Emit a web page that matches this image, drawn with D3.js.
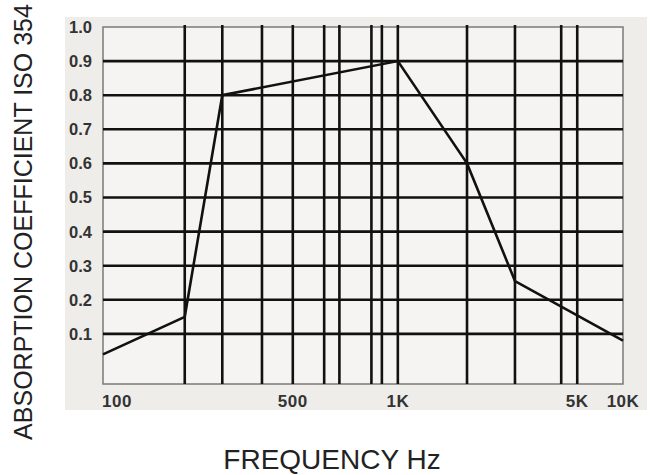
<!DOCTYPE html>
<html>
<head>
<meta charset="utf-8">
<script src="https://cdn.jsdelivr.net/npm/d3@7"></script>
<style>
  body { margin: 0; background: #fff; }
  text { font-family: "Liberation Sans", Arial, sans-serif; }
</style>
</head>
<body>
<svg id="chart" width="656" height="475"></svg>
<script>
// data
var freqs = [100, 200, 275, 1000, 1860, 2860, 10000];
var absorption = [0.04, 0.15, 0.80, 0.90, 0.60, 0.255, 0.08];

// vertical grid lines (hand drawn, irregular spacing)
var gridFreqs = [200, 275, 385, 500, 615, 680, 840, 900, 1000, 1860, 2860, 4330, 5000];
var gridValues = [0.1, 0.2, 0.3, 0.4, 0.5, 0.6, 0.7, 0.8, 0.9];

var xTicks = [100, 500, 1000, 5000, 10000];
var xTickLabels = ['100', '500', '1K', '5K', '10K'];
var yTicks = [0.1, 0.2, 0.3, 0.4, 0.5, 0.6, 0.7, 0.8, 0.9, 1.0];

(function(){
	'use strict';

	var svg = d3.select('#chart'),
		left = 103, right = 623, top = 27, bottom = 384,
		w = right - left;

	// the printed axis is not a clean log scale, so piece it together between labelled ticks
	var x = d3.scaleLog()
		.domain(xTicks)
		.range([left, left + w * 0.365, left + w * 0.567, left + w * 0.912, right]);

	var y = d3.scaleLinear()
		.domain([-0.047, 1])
		.range([bottom, top]);

	// panel
	svg.append('rect')
		.attr('x', 65).attr('y', 17)
		.attr('width', 582).attr('height', 393)
		.attr('fill', '#efedea');

	svg.append('rect')
		.attr('x', left).attr('y', top)
		.attr('width', w).attr('height', bottom - top)
		.attr('fill', '#f5f4f2')
		.attr('stroke', '#7a7a7a')
		.attr('stroke-width', 1.5);

	var grid = svg.append('g').attr('stroke', '#111').attr('stroke-width', 2.6);

	grid.selectAll('line.h')
		.data(gridValues)
		.enter().append('line')
		.attr('class', 'h')
		.attr('x1', left).attr('x2', right)
		.attr('y1', d => y(d)).attr('y2', d => y(d));

	grid.selectAll('line.v')
		.data(gridFreqs)
		.enter().append('line')
		.attr('class', 'v')
		.attr('x1', d => x(d)).attr('x2', d => x(d))
		.attr('y1', top - 2).attr('y2', bottom);

	// curve
	var line = d3.line()
		.x(d => x(d[0]))
		.y(d => y(d[1]));

	svg.append('path')
		.datum(d3.zip(freqs, absorption))
		.attr('d', line)
		.attr('fill', 'none')
		.attr('stroke', '#111')
		.attr('stroke-width', 2.6)
		.attr('stroke-linejoin', 'miter');

	// tick labels
	svg.append('g').selectAll('text')
		.data(yTicks)
		.enter().append('text')
		.attr('x', 92)
		.attr('y', d => y(d))
		.attr('dy', '0.36em')
		.attr('text-anchor', 'end')
		.attr('font-size', 16.5)
		.attr('font-weight', 'bold')
		.attr('fill', '#333')
		.text(d => d.toFixed(1));

	svg.append('g').selectAll('text')
		.data(xTicks)
		.enter().append('text')
		.attr('x', (d, i) => i == 0 ? x(d) - 1 : x(d))
		.attr('y', 407)
		.attr('text-anchor', (d, i) => i == 0 ? 'start' : 'middle')
		.attr('font-size', 17)
		.attr('font-weight', 'bold')
		.attr('letter-spacing', 0.5)
		.attr('fill', '#333')
		.text((d, i) => xTickLabels[i]);

	// axis titles
	svg.append('text')
		.attr('transform', 'translate(32,222) rotate(-90)')
		.attr('text-anchor', 'middle')
		.attr('font-size', 25)
		.attr('fill', '#222')
		.text('ABSORPTION COEFFICIENT  ISO 354');

	svg.append('text')
		.attr('x', 332)
		.attr('y', 469)
		.attr('text-anchor', 'middle')
		.attr('font-size', 28)
		.attr('fill', '#222')
		.text('FREQUENCY Hz');
})();
</script>
</body>
</html>
